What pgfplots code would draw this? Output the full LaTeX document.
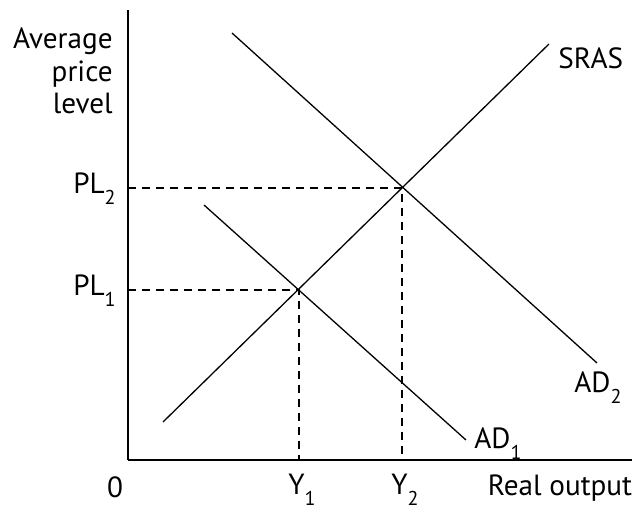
\documentclass[border=0pt]{standalone}
\usepackage{fontspec}
\setmainfont{PT Sans}
\usepackage{pgfplots}
\pgfplotsset{compat=1.18}
\newcommand{\sub}[1]{\raisebox{-0.75ex}{\fontsize{10}{10}\selectfont #1}}
\tikzset{lbl/.style={inner sep=0pt, font=\fontsize{14.6}{16.2}\selectfont}}
\begin{document}
\begin{tikzpicture}
\begin{axis}[
  scale only axis,
  x=0.5pt, y=0.5pt,
  xmin=128, xmax=632, ymin=49, ymax=499,
  axis x line=bottom, axis y line=left,
  axis line style={-, line width=0.75pt},
  xtick=\empty, ytick=\empty,
  clip=false,
]
% dashed guides
\addplot[black, line width=0.6pt, dash pattern=on 4pt off 3pt] coordinates {(128,321) (402,321) (402,49)};
\addplot[black, line width=0.6pt, dash pattern=on 4pt off 3pt] coordinates {(128,219) (299,219) (299,49)};
% curves
\addplot[black, line width=0.65pt] coordinates {(163,87) (549,465)};   % SRAS
\addplot[black, line width=0.65pt] coordinates {(204,304) (466,69)};   % AD1
\addplot[black, line width=0.65pt] coordinates {(232,476) (597,146)};  % AD2
% labels
\node[lbl, anchor=east, align=right] at (axis cs:113,438) {Average\\price\\level};
\node[lbl, anchor=east] at (axis cs:116,320) {PL\sub{2}};
\node[lbl, anchor=east] at (axis cs:116,218) {PL\sub{1}};
\node[lbl] at (axis cs:115,22) {0};
\node[lbl] at (axis cs:302,19) {Y\sub{1}};
\node[lbl] at (axis cs:405,19) {Y\sub{2}};
\node[lbl] at (axis cs:560,21) {Real output};
\node[lbl, anchor=west] at (axis cs:558,451) {SRAS};
\node[lbl, anchor=west] at (axis cs:574,121) {AD\sub{2}};
\node[lbl, anchor=west] at (axis cs:474,65) {AD\sub{1}};
\path (axis cs:0,0) rectangle (axis cs:644,509);
\end{axis}
\end{tikzpicture}
\end{document}
